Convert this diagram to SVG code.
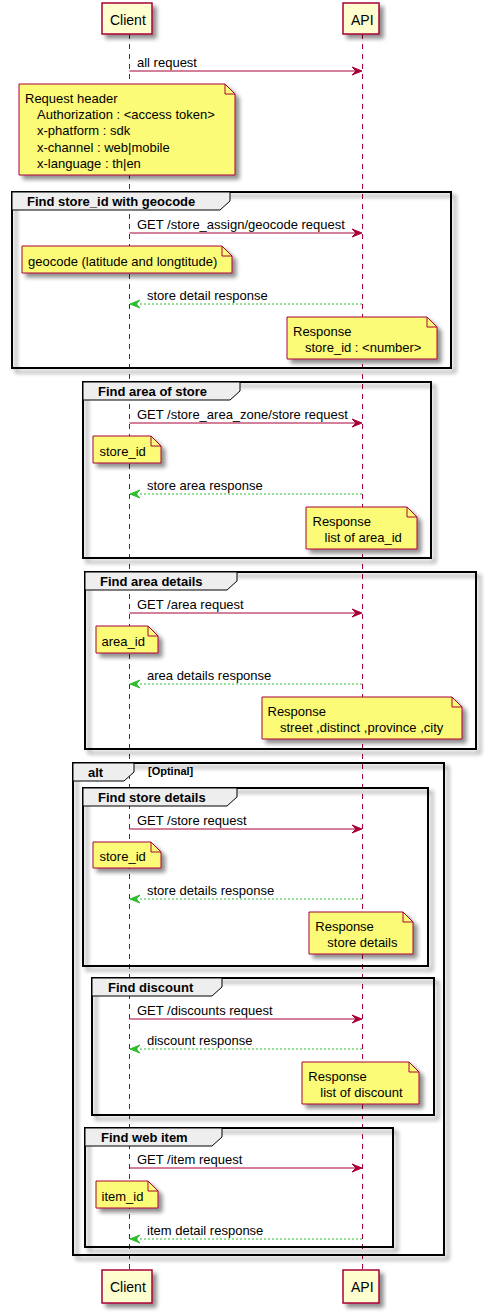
<svg xmlns="http://www.w3.org/2000/svg" width="485" height="1312" viewBox="0 0 485 1312">
<defs>
<filter id="sh" x="-10%" y="-10%" width="130%" height="140%">
<feGaussianBlur in="SourceAlpha" stdDeviation="2"/>
<feOffset dx="4" dy="4" result="b"/>
<feComponentTransfer><feFuncA type="linear" slope="0.45"/></feComponentTransfer>
<feMerge><feMergeNode/><feMergeNode in="SourceGraphic"/></feMerge>
</filter>
</defs>
<style>
text{font-family:"Liberation Sans",Arial,sans-serif;fill:#000}
.p{fill:#FEFECE;stroke:#A80036;stroke-width:1.5}
.pt{font-size:14px}
.ll{stroke:#A80036;stroke-width:1;stroke-dasharray:5,5;fill:none}
.m{stroke:#A80036;stroke-width:1;fill:none}
.mh{fill:#A80036;stroke:#A80036;stroke-width:1}
.r{stroke:#2DBE2D;stroke-width:1;stroke-dasharray:2,2;fill:none}
.rh{fill:#2DBE2D;stroke:#2DBE2D;stroke-width:1}
.ml{font-size:13px}
.n{fill:#FBFB77;stroke:#A80036;stroke-width:1}
.nf{fill:none;stroke:#A80036;stroke-width:1}
.nt{font-size:13px}
.g{fill:none;stroke:#000;stroke-width:2}
.gt{fill:#EEEEEE;stroke:#000;stroke-width:1}
.gl{font-size:13px;font-weight:bold}
.gc{font-size:11px;font-weight:bold}
</style>

<g id="lifelines">
<line class="ll" x1="129.5" y1="34" x2="129.5" y2="1270"/>
<line class="ll" x1="362.5" y1="34" x2="362.5" y2="1270"/>
</g>

<g id="participant-client-top"><rect class="p" x="102" y="3" width="50" height="31" filter="url(#sh)"/><text class="pt" x="110" y="25">Client</text></g>
<g id="participant-api-top"><rect class="p" x="343" y="3" width="36" height="31" filter="url(#sh)"/><text class="pt" x="351" y="25">API</text></g>
<g id="participant-client-bottom"><rect class="p" x="102" y="1270" width="50" height="33" filter="url(#sh)"/><text class="pt" x="110" y="1292">Client</text></g>
<g id="participant-api-bottom"><rect class="p" x="343" y="1270" width="36" height="33" filter="url(#sh)"/><text class="pt" x="351" y="1292">API</text></g>

<g id="groups">
<g id="grp-geocode"><rect class="g" x="12" y="192" width="439" height="176" filter="url(#sh)"/><polygon class="gt" points="12,192 230,192 230,201 220,210 12,210"/><text class="gl" x="27" y="206">Find store_id with geocode</text></g>
<g id="grp-area-store"><rect class="g" x="83" y="382" width="348" height="176" filter="url(#sh)"/><polygon class="gt" points="83,382 240,382 240,391 230,400 83,400"/><text class="gl" x="98" y="396">Find area of store</text></g>
<g id="grp-area-details"><rect class="g" x="85" y="572" width="391" height="177" filter="url(#sh)"/><polygon class="gt" points="85,572 237,572 237,581 227,590 85,590"/><text class="gl" x="100" y="586">Find area details</text></g>
<g id="grp-alt"><rect class="g" x="73" y="763" width="371" height="492" filter="url(#sh)"/><polygon class="gt" points="73,763 134,763 134,772 124,781 73,781"/><text class="gl" x="88" y="777">alt</text><text class="gc" x="148" y="775">[Optinal]</text></g>
<g id="grp-store-details"><rect class="g" x="83" y="788" width="345" height="178" filter="url(#sh)"/><polygon class="gt" points="83,788 237,788 237,797 227,806 83,806"/><text class="gl" x="98" y="802">Find store details</text></g>
<g id="grp-discount"><rect class="g" x="92" y="978" width="342" height="137" filter="url(#sh)"/><polygon class="gt" points="92,978 222,978 222,987 212,996 92,996"/><text class="gl" x="108" y="992">Find discount</text></g>
<g id="grp-web-item"><rect class="g" x="85" y="1128" width="308" height="119" filter="url(#sh)"/><polygon class="gt" points="85,1128 222,1128 222,1137 212,1146 85,1146"/><text class="gl" x="101" y="1142">Find web item</text></g>
</g>

<g id="connectors">
<line class="m" x1="129.5" y1="71" x2="360" y2="71"/><polygon class="mh" points="352,67 362,71 352,75 356,71"/><text class="ml" x="137" y="67">all request</text>

<line class="m" x1="129.5" y1="233" x2="360" y2="233"/><polygon class="mh" points="352,229 362,233 352,237 356,233"/><text class="ml" x="137" y="229">GET /store_assign/geocode request</text>
<line class="r" x1="132" y1="304" x2="362" y2="304"/><polygon class="rh" points="140,300 130,304 140,308 136,304"/><text class="ml" x="147" y="299.5">store detail response</text>

<line class="m" x1="129.5" y1="423" x2="360" y2="423"/><polygon class="mh" points="352,419 362,423 352,427 356,423"/><text class="ml" x="137" y="419">GET /store_area_zone/store request</text>
<line class="r" x1="132" y1="494" x2="362" y2="494"/><polygon class="rh" points="140,490 130,494 140,498 136,494"/><text class="ml" x="147" y="489.5">store area response</text>

<line class="m" x1="129.5" y1="613" x2="360" y2="613"/><polygon class="mh" points="352,609 362,613 352,617 356,613"/><text class="ml" x="137" y="609">GET /area request</text>
<line class="r" x1="132" y1="684" x2="362" y2="684"/><polygon class="rh" points="140,680 130,684 140,688 136,684"/><text class="ml" x="147" y="679.5">area details response</text>

<line class="m" x1="129.5" y1="829" x2="360" y2="829"/><polygon class="mh" points="352,825 362,829 352,833 356,829"/><text class="ml" x="137" y="825">GET /store request</text>
<line class="r" x1="132" y1="899" x2="362" y2="899"/><polygon class="rh" points="140,895 130,899 140,903 136,899"/><text class="ml" x="147" y="894.5">store details response</text>

<line class="m" x1="129.5" y1="1019" x2="360" y2="1019"/><polygon class="mh" points="352,1015 362,1019 352,1023 356,1019"/><text class="ml" x="137" y="1015">GET /discounts request</text>
<line class="r" x1="132" y1="1049" x2="362" y2="1049"/><polygon class="rh" points="140,1045 130,1049 140,1053 136,1049"/><text class="ml" x="147" y="1044.5">discount response</text>

<line class="m" x1="129.5" y1="1168" x2="360" y2="1168"/><polygon class="mh" points="352,1164 362,1168 352,1172 356,1168"/><text class="ml" x="137" y="1164">GET /item request</text>
<line class="r" x1="132" y1="1239" x2="362" y2="1239"/><polygon class="rh" points="140,1235 130,1239 140,1243 136,1239"/><text class="ml" x="147" y="1234.5">item detail response</text>
</g>

<g id="note-headers"><path class="n" filter="url(#sh)" d="M19,84 L225,84 L235,94 L235,175 L19,175 Z"/><path class="nf" d="M225,84 L225,94 L235,94"/>
<text class="nt" x="25" y="102.5">Request header</text>
<text class="nt" x="37" y="119">Authorization : &lt;access token&gt;</text>
<text class="nt" x="37" y="135.3">x-phatform : sdk</text>
<text class="nt" x="37" y="151.6">x-channel : web|mobile</text>
<text class="nt" x="37" y="168">x-language : th|en</text></g>

<g id="note-geocode"><path class="n" filter="url(#sh)" d="M22,246 L222,246 L232,256 L232,273 L22,273 Z"/><path class="nf" d="M222,246 L222,256 L232,256"/><text class="nt" x="28" y="265.5">geocode (latitude and longtitude)</text></g>
<g id="note-resp-storeid"><path class="n" filter="url(#sh)" d="M287,317 L427,317 L437,327 L437,359 L287,359 Z"/><path class="nf" d="M427,317 L427,327 L437,327"/><text class="nt" x="293" y="335.5">Response</text><text class="nt" x="305" y="351.8">store_id : &lt;number&gt;</text></g>

<g id="note-storeid-1"><path class="n" filter="url(#sh)" d="M93,436 L151,436 L161,446 L161,463 L93,463 Z"/><path class="nf" d="M151,436 L151,446 L161,446"/><text class="nt" x="99.5" y="455.5">store_id</text></g>
<g id="note-resp-areaid"><path class="n" filter="url(#sh)" d="M306,507 L407,507 L417,517 L417,549 L306,549 Z"/><path class="nf" d="M407,507 L407,517 L417,517"/><text class="nt" x="312.5" y="525.5">Response</text><text class="nt" x="324.5" y="541.8">list of area_id</text></g>

<g id="note-areaid"><path class="n" filter="url(#sh)" d="M96,626 L148,626 L158,636 L158,653 L96,653 Z"/><path class="nf" d="M148,626 L148,636 L158,636"/><text class="nt" x="101.5" y="645.5">area_id</text></g>
<g id="note-resp-area"><path class="n" filter="url(#sh)" d="M262,697 L452,697 L462,707 L462,739 L262,739 Z"/><path class="nf" d="M452,697 L452,707 L462,707"/><text class="nt" x="267.5" y="715.5">Response</text><text class="nt" x="280" y="731.8">street ,distinct ,province ,city</text></g>

<g id="note-storeid-2"><path class="n" filter="url(#sh)" d="M93,842 L151,842 L161,852 L161,868 L93,868 Z"/><path class="nf" d="M151,842 L151,852 L161,852"/><text class="nt" x="99.5" y="861">store_id</text></g>
<g id="note-resp-store"><path class="n" filter="url(#sh)" d="M309,912 L403,912 L413,922 L413,954 L309,954 Z"/><path class="nf" d="M403,912 L403,922 L413,922"/><text class="nt" x="315.3" y="930.5">Response</text><text class="nt" x="327.3" y="946.8">store details</text></g>

<g id="note-resp-discount"><path class="n" filter="url(#sh)" d="M302,1062 L409,1062 L419,1072 L419,1104 L302,1104 Z"/><path class="nf" d="M409,1062 L409,1072 L419,1072"/><text class="nt" x="308.3" y="1080.5">Response</text><text class="nt" x="320.3" y="1096.8">list of discount</text></g>

<g id="note-itemid"><path class="n" filter="url(#sh)" d="M96,1181 L148,1181 L158,1191 L158,1208 L96,1208 Z"/><path class="nf" d="M148,1181 L148,1191 L158,1191"/><text class="nt" x="101.5" y="1200.5">item_id</text></g>
</svg>
